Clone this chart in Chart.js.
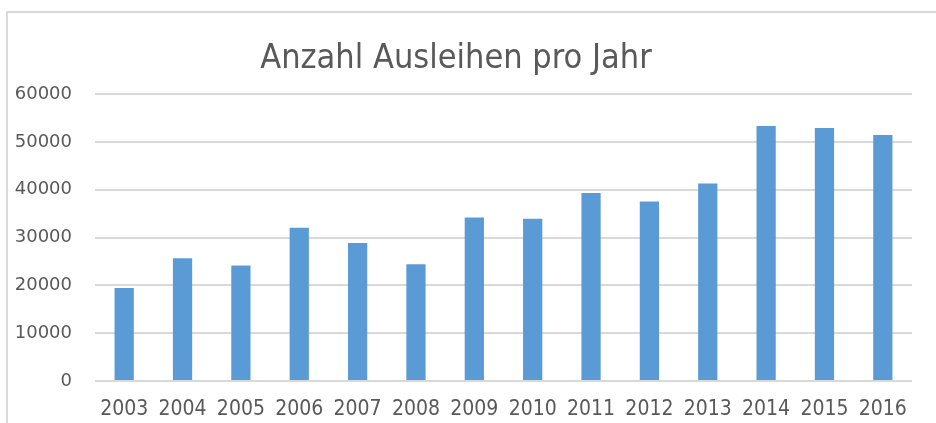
<!DOCTYPE html>
<html>
<head>
<meta charset="utf-8">
<script src="https://cdn.jsdelivr.net/npm/chart.js@4"></script>
<style>
  html, body { margin: 0; padding: 0; background: #fff; }
  #wrap { position: relative; width: 936px; height: 423px; }
  #frame { position: absolute; left: 6px; top: 11px; right: 0; bottom: 0;
           border-top: 2px solid #d9d9d9; border-left: 2px solid #d9d9d9; }
  canvas { position: absolute; left: 0; top: 0; }
</style>
</head>
<body>
<div id="wrap">
  <div id="frame"></div>
  <canvas id="chart" width="936" height="423"></canvas>
</div>
<script>
// Daten: Ausleihen pro Jahr
const jahre = ['2003', '2004', '2005', '2006', '2007', '2008', '2009',
               '2010', '2011', '2012', '2013', '2014', '2015', '2016'];
const ausleihen = [19450, 25650, 24150, 32050, 28850, 24400, 34200,
                   33900, 39300, 37550, 41300, 53300, 52900, 51450];
const yTicks = [0, 10000, 20000, 30000, 40000, 50000, 60000];

const grau = '#595959';
const schmal = "'Liberation Sans Narrow', 'DejaVu Sans Condensed', 'Roboto Condensed', Roboto, sans-serif";

new Chart(document.getElementById('chart'), {
    type: 'bar',
    data: {
        labels: jahre,
        datasets: [{
            label: 'Ausleihen',
            data: ausleihen,
            backgroundColor: '#5b9bd5',
            categoryPercentage: 1,
            barPercentage: 0.33
        }]
    },
    options: {
        responsive: false,
        animation: false,
        layout: { padding: { left: 0, right: 24, top: 42, bottom: 0 } },
        plugins: {
            legend: { display: false },
            tooltip: { enabled: false },
            title: {
                display: true,
                text: 'Anzahl Ausleihen pro Jahr',
                color: grau,
                font: { family: schmal, size: 34, weight: 'normal', lineHeight: 1 },
                padding: { top: 0, bottom: 18 }
            }
        },
        scales: {
            x: {
                afterFit: (scale) => { scale.height = 42; },
                grid: { display: false, drawTicks: false },
                border: { display: false },
                ticks: {
                    color: grau,
                    padding: 18,
                    maxRotation: 0,
                    autoSkip: false,
                    font: { family: schmal, size: 21, lineHeight: 1 }
                }
            },
            y: {
                min: 0,
                max: 60000,
                afterFit: (scale) => { scale.width = 95; },
                afterBuildTicks: (scale) => { scale.ticks = yTicks.map(v => ({ value: v })); },
                grid: { color: '#d9d9d9', lineWidth: 2, drawTicks: false },
                border: { display: false },
                ticks: {
                    color: grau,
                    padding: 23,
                    callback: (v) => String(v),
                    font: { family: 'DejaVu Sans', size: 18 }
                }
            }
        }
    }
});
</script>
</body>
</html>
